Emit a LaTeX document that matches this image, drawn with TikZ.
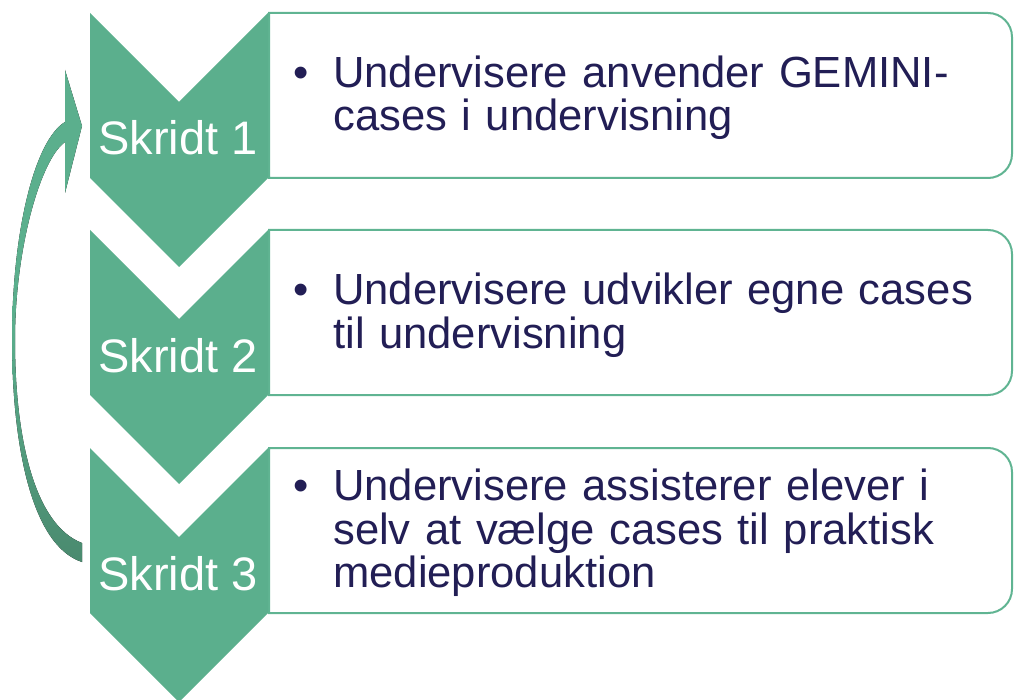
\documentclass[tikz,border=0pt]{standalone}
\usepackage{fontspec}
\setmainfont{Liberation Sans}
\definecolor{chev}{RGB}{91,175,141}
\definecolor{chevdark}{RGB}{74,138,111}
\definecolor{boxline}{RGB}{96,180,146}
\definecolor{navy}{RGB}{34,30,85}
\begin{document}
\begin{tikzpicture}[x=1pt,y=-1pt,
  chevron/.style={fill=chev},
  stepbox/.style={draw=boxline, line width=2pt, fill=white},
  steplabel/.style={text=white, font=\fontsize{47}{47}\selectfont, anchor=base, inner sep=0pt},
  bullettext/.style={text=navy, font=\fontsize{43.6}{43.5}\selectfont, anchor=base west, inner sep=0pt},
  bodytext/.style={text=navy, font=\fontsize{43.6}{43.5}\selectfont, anchor=base west, inner sep=0pt, text width=680pt, align=left}]
\useasboundingbox (0,0) rectangle (1014,700);
% boxes
\foreach \t in {13,230,448}{
  \draw[stepbox] (269,\t) -- (988,\t) arc(-90:0:24) -- (1012,\t+141) arc(0:90:24) -- (269,\t+165) -- cycle;
}
% chevrons
\foreach \t in {13,230,448}{
  \fill[chevron] (90,\t) -- (179,\t+89) -- (268,\t) -- (268,\t+165) -- (179,\t+254) -- (90,\t+165) -- cycle;
}
% labels
\node[steplabel] (s1) at (178,155) {Skridt 1};
\node[steplabel] (s2) at (178,372.5) {Skridt 2};
\node[steplabel] (s3) at (178,590) {Skridt 3};
% bullets and text
\node[bullettext] (b1) at (293,87.5) {•};
\node[bodytext] (t1) at (333,87.5) {Undervisere anvender GEMINI-\\cases i undervisning};
\node[bullettext] (b2) at (293,305) {•};
\node[bodytext] (t2) at (333,305) {Undervisere udvikler egne cases\\til undervisning};
\node[bullettext] (b3) at (293,500.5) {•};
\node[bodytext] (t3) at (333,500.5) {Undervisere assisterer elever i\\selv at vælge cases til praktisk\\medieproduktion};
% curved return arrow
\fill[top color=chev, bottom color=chevdark, middle color=chev]
  (82,562) .. controls (30,545) and (12,440) .. (12,340)
  .. controls (12,230) and (35,140) .. (65,122)
  -- (65,70) -- (82,126) -- (65,193) -- (65,142)
  .. controls (40,160) and (15,250) .. (15,340)
  .. controls (15,440) and (35,525) .. (82,543) -- cycle;
\end{tikzpicture}
\end{document}
